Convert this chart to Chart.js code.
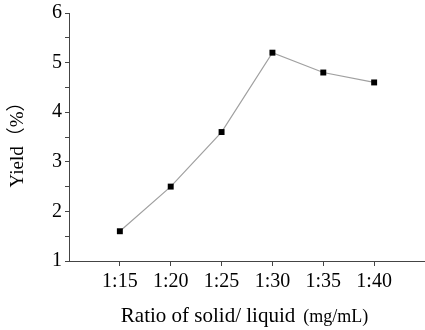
<!DOCTYPE html>
<html><head><meta charset="utf-8">
<script src="https://cdn.jsdelivr.net/npm/chart.js@4/dist/chart.umd.min.js"></script>
<style>html,body{margin:0;padding:0;background:#fff}#wrap{width:425px;height:330px;position:relative}</style>
</head><body><div id="wrap"><canvas id="c" width="425" height="330"></canvas></div>
<script>
const categories = ["1:15", "1:20", "1:25", "1:30", "1:35", "1:40"];
const yieldValues = [1.6, 2.5, 3.6, 5.2, 4.8, 4.6];
const yTickLabels = [1, 2, 3, 4, 5, 6];
const xTitle = "Ratio of solid/ liquid";
const xTitleUnit = "(mg/mL)";
const yTitle = "Yield（%）";

const FONT = "'Liberation Serif', 'Times New Roman', serif";

const titlePlugin = {
  id: 'titles',
  afterDraw(chart) {
    const ctx = chart.ctx;
    ctx.save();
    ctx.fillStyle = '#000';
    ctx.textBaseline = 'alphabetic';
    ctx.font = "21px " + FONT;
    const w1 = ctx.measureText(xTitle).width + 8;
    ctx.font = "18px " + FONT;
    const w2 = ctx.measureText(xTitleUnit).width;
    const total = w1 + w2;
    const cx = 244.5;
    let x0 = cx - total / 2;
    ctx.font = "21px " + FONT;
    ctx.textAlign = 'left';
    ctx.fillText(xTitle, x0, 322);
    ctx.font = "18px " + FONT;
    ctx.fillText(xTitleUnit, x0 + w1, 322);
    // y title
    ctx.translate(23, 140);
    ctx.rotate(-Math.PI / 2);
    ctx.font = "19px " + FONT + ", 'Noto Sans CJK SC'";
    ctx.textAlign = 'center';
    ctx.fillText(yTitle, 0, 0);
    ctx.restore();
  }
};

new Chart(document.getElementById('c'), {
  type: 'line',
  data: {
    datasets: [{
      data: yieldValues.map((v, i) => ({x: i + 1, y: v})),
      borderColor: '#a0a0a0',
      borderWidth: 1.2,
      pointStyle: 'rect',
      pointRadius: 4.2,
      pointBackgroundColor: '#000',
      pointBorderColor: '#000',
      pointBorderWidth: 0,
      tension: 0
    }]
  },
  options: {
    responsive: false,
    animation: false,
    events: [],
    layout: {autoPadding: false, padding: {top: 13, left: 0, right: 0, bottom: 0}},
    plugins: {legend: {display: false}, tooltip: {enabled: false}},
    scales: {
      x: {
        type: 'linear',
        min: 0, max: 7,
        afterBuildTicks(s) { s.ticks = categories.map((c, i) => ({value: i + 1})); },
        afterFit(s) { s.height = 69; s.paddingRight = 0; s.paddingLeft = 0; },
        ticks: {
          autoSkip: false,
          maxRotation: 0,
          padding: 4,
          color: '#000',
          font: {family: FONT, size: 20},
          callback: (v) => categories[v - 1] ?? ''
        },
        grid: {drawOnChartArea: false, drawTicks: true, tickLength: 5, color: '#444', tickColor: '#444'},
        border: {display: true, color: '#444', width: 1}
      },
      y: {
        min: 1, max: 6,
        afterFit(s) { s.width = 69; },
        ticks: {
          stepSize: 0.5,
          autoSkip: false,
          padding: 3,
          color: '#000',
          font: {family: FONT, size: 20, lineHeight: 1.0},
          callback: (v) => yTickLabels.includes(v) ? String(v) : ''
        },
        grid: {drawOnChartArea: false, drawTicks: true, tickLength: 4, color: '#444', tickColor: '#444'},
        border: {display: true, color: '#444', width: 1}
      }
    }
  },
  plugins: [titlePlugin]
});
</script>
</body></html>
